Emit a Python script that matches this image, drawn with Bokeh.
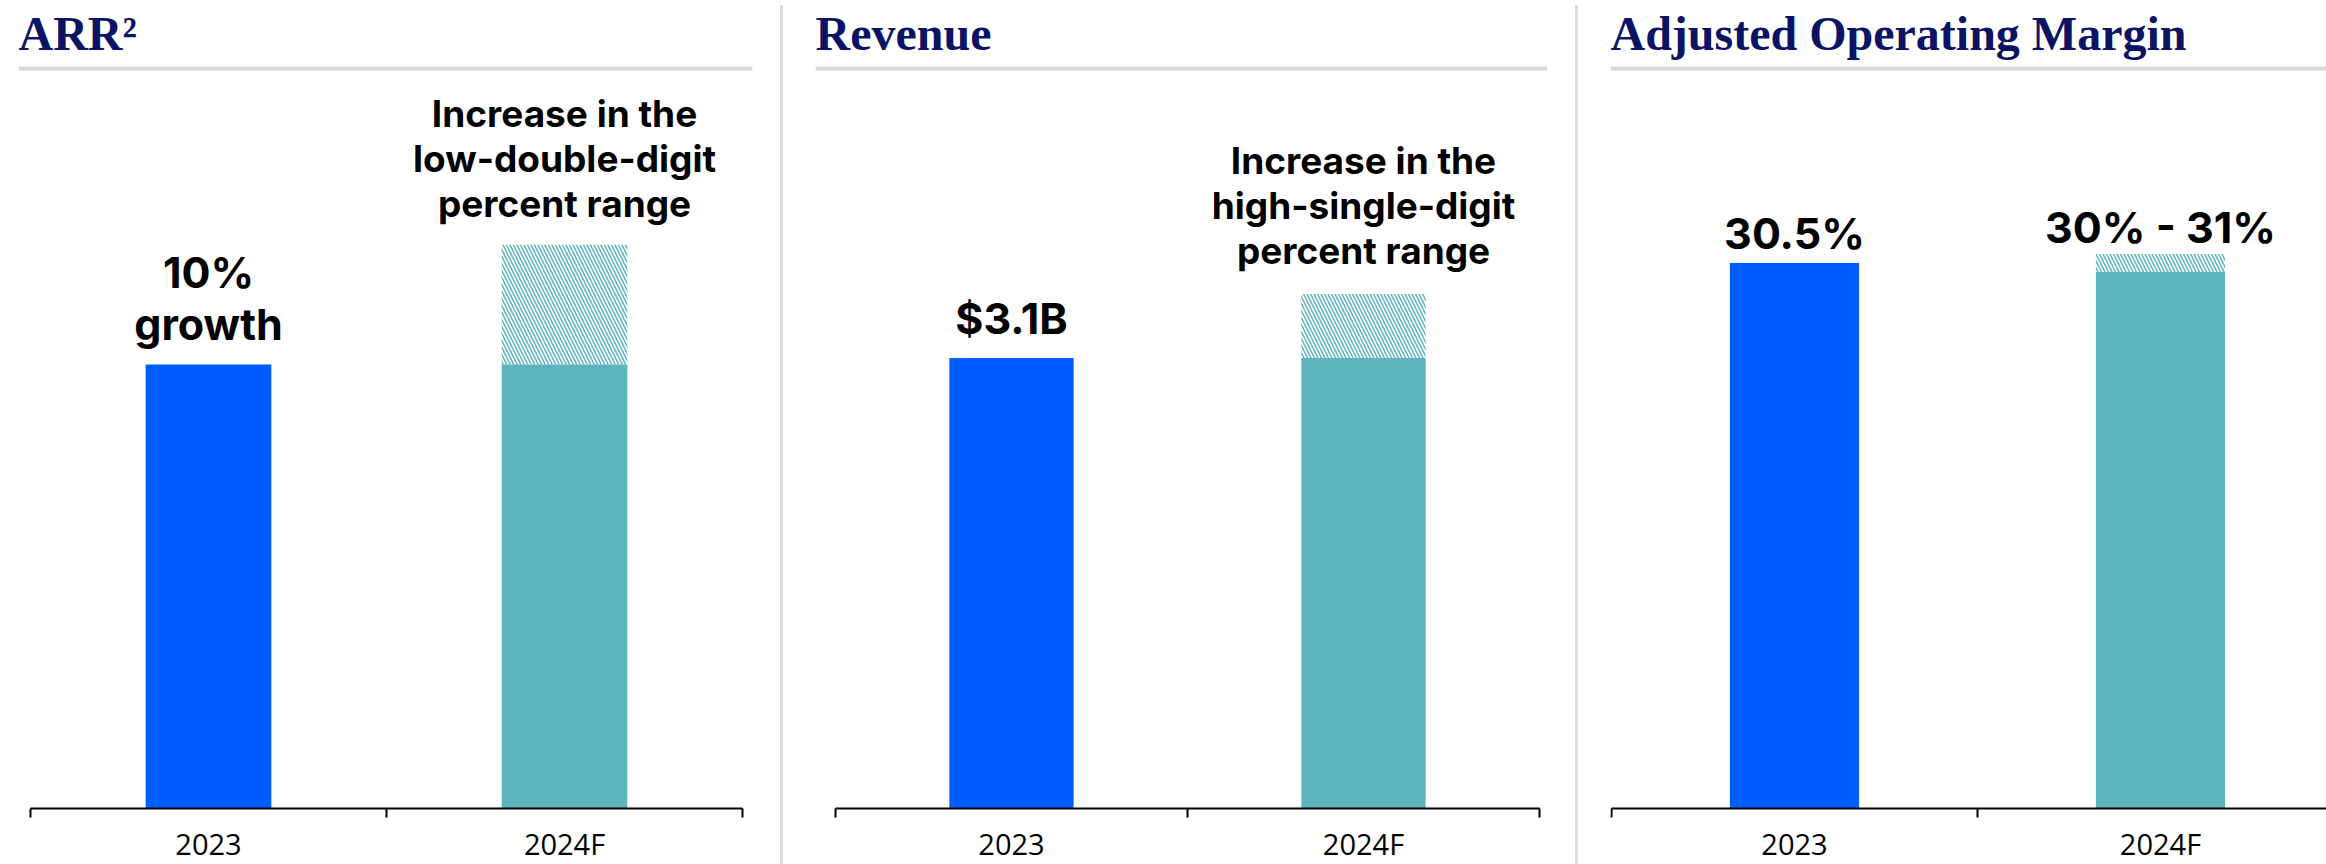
from bokeh.plotting import figure
from bokeh.models import Range1d, LinearAxis, FixedTicker, Div, ColumnDataSource, Span, Label
from bokeh.layouts import row
from bokeh.embed import file_html
from bokeh.resources import INLINE
from bokeh.core.properties import value

# ---------------- data ----------------
years = ["2023", "2024F"]

arr_index = [100, 100]            # ARR level (2023 = 100); 2024F solid part
arr_high_2024 = 127               # top of the hatched 2024F range
arr_labels = ["10%\ngrowth", "Increase in the\nlow-double-digit\npercent range"]

revenue_bn = [3.1, 3.1]           # $B
revenue_high_2024 = 3.54
revenue_labels = ["$3.1B", "Increase in the\nhigh-single-digit\npercent range"]

margin_pct = [30.5, 30.0]         # %
margin_high_2024 = 31.0
margin_labels = ["30.5%", "30% - 31%"]

titles = ["ARR\u00b2", "Revenue", "Adjusted Operating Margin"]

# ---------------- style / layout ----------------
BLUE = "#005eff"
TEAL = "#5eb4bc"
NAVY = "#0b1464"
RULE = "#d9d9d9"
SEP = "#dcdcdc"
H = 864            # figure height
AXIS_Y = 808       # pixel row of the category axis
RULE_Y = 68        # pixel row of the grey rule under the title
TITLE_Y = 33       # title anchor (pixels from top)
BAR_W = 0.353


def make_panel(title, vals, high, labels, width, bl, br, xr, y_rule, sizes, gaps):
    n = len(years)
    xs = [i + 0.5 for i in range(n)]
    s = (AXIS_Y - RULE_Y) / y_rule                 # pixels per data unit
    yr = Range1d(-(H - AXIS_Y) / s, AXIS_Y / s)
    p = figure(width=width, height=H, x_range=Range1d(*xr), y_range=yr,
               x_axis_location=None, y_axis_location=None, toolbar_location=None,
               output_backend="svg", title=None,
               min_border_left=bl, min_border_right=br, min_border_top=0,
               min_border_bottom=0, outline_line_color=None)
    p.grid.visible = False

    p.add_layout(Label(x=0, y=H - TITLE_Y, x_units="screen", y_units="screen",
                       text=title, text_font="Liberation Serif", text_font_size="48px",
                       text_font_style="bold", text_color=NAVY,
                       text_align="left", text_baseline="alphabetic"))
    p.add_layout(Span(location=y_rule, dimension="width", line_color=RULE, line_width=4))

    ax = LinearAxis(ticker=FixedTicker(ticks=xs, minor_ticks=list(range(n + 1))),
                    bounds=(0, n), fixed_location=0,
                    major_label_overrides={x: y for x, y in zip(xs, years)},
                    axis_line_color="black", axis_line_width=2,
                    major_tick_line_color=None, major_tick_in=0, major_tick_out=0,
                    minor_tick_line_color="black", minor_tick_line_width=2,
                    minor_tick_in=0, minor_tick_out=9,
                    major_label_standoff=6,
                    major_label_text_font="Open Sans",
                    major_label_text_font_size="29px",
                    major_label_text_color="black")
    p.add_layout(ax, "below")

    src = ColumnDataSource(dict(x=xs, top=vals, color=[BLUE, TEAL]))
    p.vbar(x="x", top="top", bottom=0, width=BAR_W, fill_color="color",
           line_color=None, source=src)
    p.vbar(x=[xs[1]], bottom=[vals[1]], top=[high], width=BAR_W, fill_color="white",
           fill_alpha=0, line_color=None, hatch_pattern="\\", hatch_color=TEAL,
           hatch_scale=7, hatch_weight=1.5)

    tops = [vals[0], high]
    for i in range(n):
        p.text(x=[xs[i]], y=[tops[i]], text=[labels[i]], text_align="center",
               text_baseline="bottom", text_font=value("Inter"),
               text_font_style="bold", text_font_size=sizes[i], text_color="black",
               text_line_height=1.0, y_offset=-gaps[i])
    return p


def sep():
    return Div(text='<div style="width:3px;height:%dpx;background:%s;"></div>' % (H - 5, SEP),
               width=3, height=H - 5, margin=(5, 0, 0, 0))


p1 = make_panel(titles[0], arr_index, arr_high_2024, arr_labels, 780, 18, 28,
                (-0.0337, 2.028), 166.7, ["43px", "37px"], [15, 19])
p2 = make_panel(titles[1], revenue_bn, revenue_high_2024, revenue_labels, 792, 32, 28,
                (-0.0568, 2.0227), 5.092, ["43px", "37px"], [14, 21])
p3 = make_panel(titles[2], margin_pct, margin_high_2024, margin_labels, 748, 32, 0,
                (-0.0027, 1.9536), 41.37, ["43px", "43px"], [4, 1])

layout = row(p1, sep(), p2, sep(), p3)
open("out.html", "w").write(file_html(layout, INLINE))
